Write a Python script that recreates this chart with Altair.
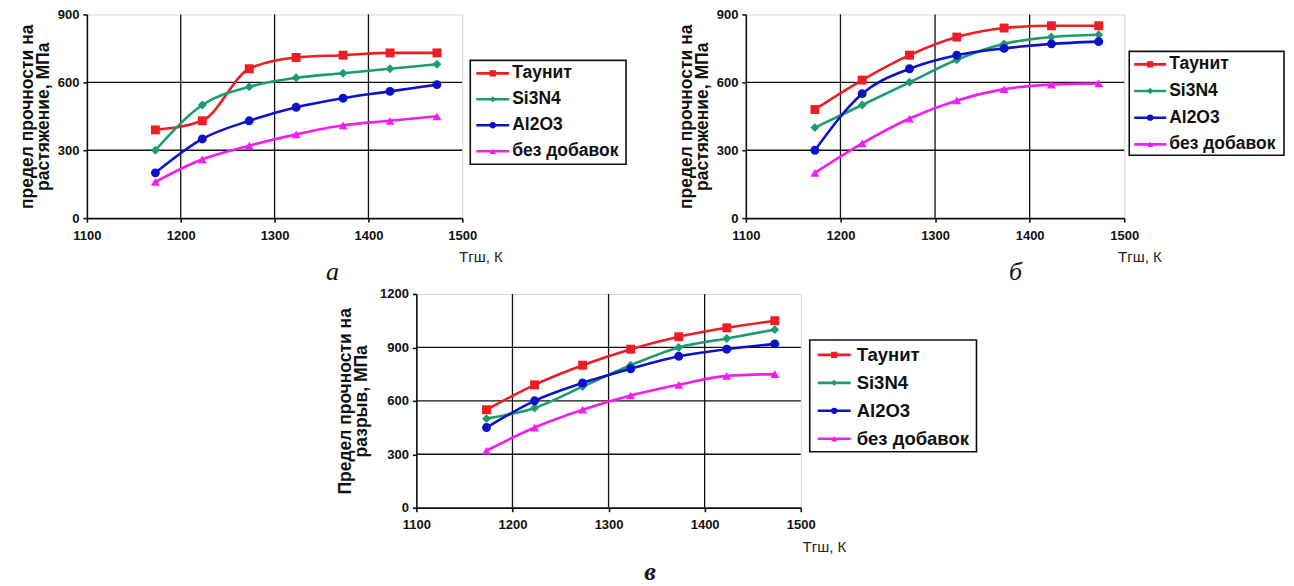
import altair as alt
import pandas as pd

T = [1173, 1223, 1273, 1323, 1373, 1423, 1473]
series = ["Таунит", "Si3N4", "Al2O3", "без добавок"]
colors = ["#ee1c24", "#1b9c6c", "#0c12c8", "#f01ef0"]
shapes = ["square", "diamond", "circle", "triangle-up"]

# panel а
a_taunit = [390, 430, 660, 710, 720, 730, 730]
a_si3n4 = [300, 500, 580, 620, 640, 660, 680]
a_al2o3 = [200, 350, 430, 490, 530, 560, 590]
a_none = [160, 260, 320, 370, 410, 430, 450]
# panel б
b_taunit = [480, 610, 720, 800, 840, 850, 850]
b_si3n4 = [400, 500, 600, 700, 770, 800, 810]
b_al2o3 = [300, 550, 660, 720, 750, 770, 780]
b_none = [200, 330, 440, 520, 570, 590, 595]
# panel в
c_taunit = [550, 690, 800, 890, 960, 1010, 1050]
c_si3n4 = [500, 560, 680, 800, 900, 950, 1000]
c_al2o3 = [450, 600, 700, 780, 850, 890, 920]
c_none = [320, 450, 550, 630, 690, 740, 750]

x_ticks = [1100, 1200, 1300, 1400, 1500]
x_grid = [1200, 1300, 1400]

FONT = "Liberation Sans"
one = pd.DataFrame({"k": [0]})


def make_panel(vals, ymax, yticks, ygrid, ytitle, w, h, leg, sub, xt, tpad):
    df = pd.DataFrame(
        [{"T": t, "v": v, "s": s} for s, arr in zip(series, vals) for t, v in zip(T, arr)]
    )
    X = alt.X(
        "T:Q",
        scale=alt.Scale(domain=[1100, 1500], nice=False, zero=False),
        axis=alt.Axis(
            values=x_ticks, format="d", grid=False, title="Тгш, К", labelFlush=False,
            titleFontWeight="normal", titleFontSize=15, titleFont=FONT,
            titleAlign="right", titleBaseline="top", titleX=xt[0], titleY=xt[1],
            titleColor="#222",
        ),
    )
    Y = alt.Y(
        "v:Q",
        scale=alt.Scale(domain=[0, ymax], nice=False),
        axis=alt.Axis(
            values=yticks, format="d", grid=False, title=ytitle,
            titleFontWeight="bold", titleFontSize=17.5, titleFont=FONT,
            titleLineHeight=16, titlePadding=tpad, titleColor="#111",
        ),
    )
    gx = alt.Chart(pd.DataFrame({"T": x_grid})).mark_rule(
        color="#111", strokeWidth=1.3).encode(x=X)
    gy = alt.Chart(pd.DataFrame({"v": ygrid})).mark_rule(
        color="#111", strokeWidth=1.3).encode(y=Y)
    col = alt.Color("s:N", scale=alt.Scale(domain=series, range=colors), legend=None)
    lines = alt.Chart(df).mark_line(interpolate="monotone", strokeWidth=2.6).encode(
        x=X, y=Y, color=col)
    pts = alt.Chart(df).mark_point(filled=True, opacity=1, size=80).encode(
        x=X, y=Y, color=col,
        shape=alt.Shape("s:N", scale=alt.Scale(domain=series, range=shapes), legend=None))
    bx0, by0, bx1, by1, lx0, lx1, tx, ry0, rdy, lfs = leg
    layers = [gx, gy, lines, pts]
    layers.append(
        alt.Chart(one).mark_rect(fill="white", stroke="#111", strokeWidth=1.6).encode(
            x=alt.value(bx0), x2=alt.value(bx1), y=alt.value(by0), y2=alt.value(by1)))
    for i, (s, c, sh) in enumerate(zip(series, colors, shapes)):
        yy = ry0 + i * rdy
        layers.append(alt.Chart(one).mark_rule(color=c, strokeWidth=2.6).encode(
            x=alt.value(lx0), x2=alt.value(lx1), y=alt.value(yy)))
        layers.append(alt.Chart(one).mark_point(
            shape=sh, filled=True, opacity=1, color=c, size=40).encode(
            x=alt.value((lx0 + lx1) / 2), y=alt.value(yy)))
        layers.append(alt.Chart(one).mark_text(
            text=s, font=FONT, fontWeight="bold", fontSize=lfs, align="left",
            baseline="middle", color="#111").encode(x=alt.value(tx), y=alt.value(yy)))
    sx, sy, stxt, sbold = sub
    layers.append(alt.Chart(one).mark_text(
        text=stxt, font="Liberation Serif", fontStyle="italic",
        fontWeight="bold" if sbold else "normal", fontSize=26,
        align="center", baseline="middle", color="#111").encode(
        x=alt.value(sx), y=alt.value(sy)))
    return alt.layer(*layers).properties(width=w, height=h)


pa = make_panel(
    [a_taunit, a_si3n4, a_al2o3, a_none], 900, [0, 300, 600, 900], [300, 600],
    ["предел прочности на", "растяжение, МПа"], 376, 204,
    (384, 46, 540, 150, 390, 423, 426, 59, 26, 17.5), (246, 258, "а", False), (416, 31), 5)
pb = make_panel(
    [b_taunit, b_si3n4, b_al2o3, b_none], 900, [0, 300, 600, 900], [300, 600],
    ["предел прочности на", "растяжение, МПа"], 379, 204,
    (384, 37, 539, 141, 389, 421, 424, 50, 26.7, 17.5), (270, 258, "б", False), (416, 31), 5)
pc = make_panel(
    [c_taunit, c_si3n4, c_al2o3, c_none], 1200, [0, 300, 600, 900, 1200], [300, 600, 900],
    ["Предел прочности на", "разрыв, МПа"], 385, 214,
    (394, 46, 561, 158, 402, 435, 441, 61, 28, 18.5), (234, 278, "в", True), (430, 32), 9)

spacer = alt.Chart(one).mark_text(text="").encode(
    x=alt.value(0), y=alt.value(0)).properties(
    width=248, height=10, view=alt.ViewBackground(stroke="transparent"))

top = alt.hconcat(pa, pb, spacing=48)
bottom = alt.hconcat(spacer, pc, spacing=0)
chart = alt.vconcat(top, bottom, spacing=1).properties(
    padding={"left": 9, "top": -1, "right": 0, "bottom": 0}
).configure_view(stroke="#d6d6d6", strokeWidth=1).configure_axis(
    labelFont=FONT, labelFontWeight="bold", labelFontSize=13, labelColor="#111",
    domainColor="#111", domainWidth=1.6, tickColor="#111", tickWidth=1.6,
    tickSize=4, labelPadding=4,
).configure_axisX(labelPadding=7).configure_concat(spacing=0)

chart.save("out.html", embed_options={"renderer": "svg", "actions": False})
